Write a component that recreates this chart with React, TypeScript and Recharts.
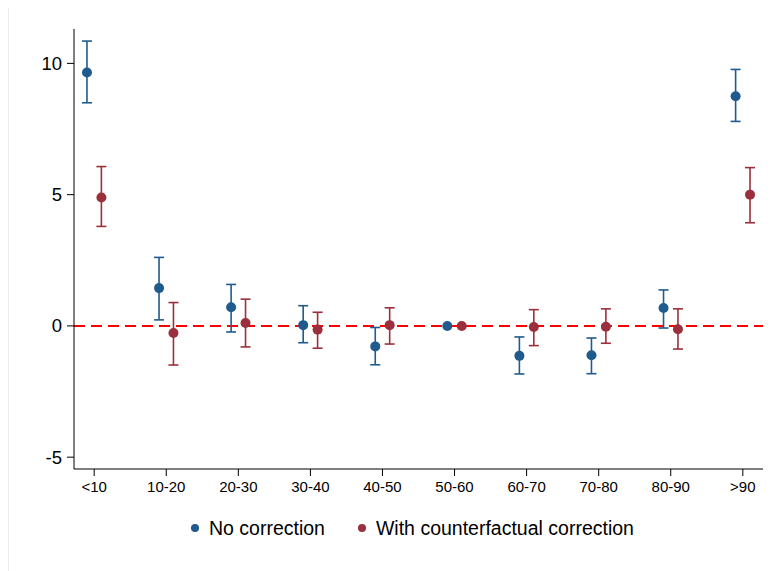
import React from 'react';
import { ScatterChart, Scatter, XAxis, YAxis, ErrorBar, ReferenceLine, Legend } from 'recharts';

const categories = ['<10', '10-20', '20-30', '30-40', '40-50', '50-60', '60-70', '70-80', '80-90', '>90'];

// point estimates and 95% CI bounds (50-60 is the reference group, no CI)
const noCorrection = [9.65, 1.44, 0.71, 0.03, -0.78, 0, -1.14, -1.12, 0.68, 8.75];
const noCorrectionLo = [8.5, 0.23, -0.23, -0.64, -1.48, null, -1.83, -1.82, -0.08, 7.79];
const noCorrectionHi = [10.85, 2.61, 1.58, 0.77, -0.06, null, -0.42, -0.46, 1.37, 9.77];

const counterfactual = [4.89, -0.27, 0.11, -0.14, 0.03, 0, -0.04, -0.03, -0.13, 5.0];
const counterfactualLo = [3.79, -1.49, -0.8, -0.85, -0.69, null, -0.75, -0.66, -0.88, 3.93];
const counterfactualHi = [6.07, 0.89, 1.02, 0.52, 0.69, null, 0.62, 0.65, 0.65, 6.03];

const yTicks = [-5, 0, 5, 10];

const BLUE = '#1f5b8e';
const RED = '#9b2f3b';
const FONT = '"Liberation Sans", Arial, sans-serif';

const buildRows = (vals: number[], lo: (number | null)[], hi: (number | null)[], shift: number) =>
  vals.map((v, i) => ({
    x: i + shift,
    y: v,
    err: lo[i] == null || hi[i] == null ? null : [v - (lo[i] as number), (hi[i] as number) - v],
  }));

const blueRows = buildRows(noCorrection, noCorrectionLo, noCorrectionHi, -0.1);
const redRows = buildRows(counterfactual, counterfactualLo, counterfactualHi, 0.1);

const dot = (color: string) => (p: any) => <circle cx={p.cx} cy={p.cy} r={5} fill={color} />;

const LegendItem: React.FC<{ color: string; label: string; gap?: number }> = ({ color, label, gap = 0 }) => (
  <div style={{ display: 'flex', alignItems: 'center', marginLeft: gap }}>
    <span style={{ width: 8, height: 8, borderRadius: 4, background: color, display: 'inline-block', marginRight: 10 }} />
    <span style={{ fontSize: 19.5, color: '#000' }}>{label}</span>
  </div>
);

const renderLegend = () => (
  <div style={{ display: 'flex', alignItems: 'center', height: 30, paddingLeft: 182, fontFamily: FONT }}>
    <LegendItem color={BLUE} label="No correction" />
    <LegendItem color={RED} label="With counterfactual correction" gap={33} />
  </div>
);

const App: React.FC = () => (
  <div style={{ width: 762, height: 563, borderLeft: '1px solid #e8eef0', fontFamily: FONT, background: '#fff' }}>
    <ScatterChart width={762} height={563} margin={{ top: 21, right: 8, left: 0, bottom: 42 }}>
      <XAxis
        type="number"
        dataKey="x"
        domain={[-0.28, 9.28]}
        ticks={categories.map((_, i) => i)}
        tickFormatter={(v) => categories[v] ?? ''}
        allowDataOverflow
        height={30}
        tickSize={7}
        tickMargin={5}
        stroke="#000"
        tick={{ fill: '#000', fontSize: 15, fontFamily: FONT }}
      />
      <YAxis
        type="number"
        dataKey="y"
        domain={[-5.45, 11.31]}
        ticks={yTicks}
        allowDataOverflow
        width={65}
        tickSize={7}
        tickMargin={5}
        stroke="#000"
        tick={{ fill: '#000', fontSize: 18.5, fontFamily: FONT }}
      />
      <ReferenceLine y={0} stroke="#ff0000" strokeWidth={2} strokeDasharray="11 6" />
      <Scatter data={blueRows} fill={BLUE} shape={dot(BLUE)} isAnimationActive={false}>
        <ErrorBar dataKey="err" direction="y" width={5} stroke={BLUE} strokeWidth={1.6} />
      </Scatter>
      <Scatter data={redRows} fill={RED} shape={dot(RED)} isAnimationActive={false}>
        <ErrorBar dataKey="err" direction="y" width={5} stroke={RED} strokeWidth={1.6} />
      </Scatter>
      <Legend verticalAlign="bottom" content={renderLegend} wrapperStyle={{ left: 0, bottom: 28, width: 762 }} />
    </ScatterChart>
  </div>
);

export default App;
